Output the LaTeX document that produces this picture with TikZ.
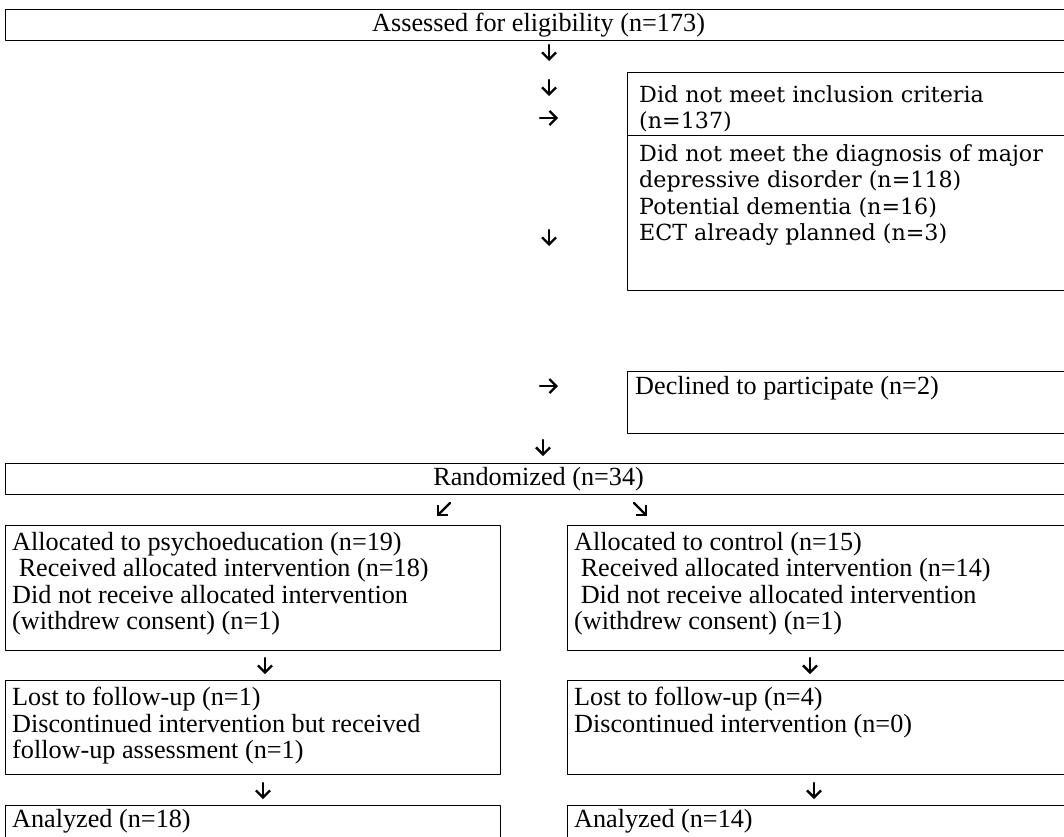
\documentclass[tikz,border=0pt]{standalone}
\usepackage{fontspec}
\setmainfont{Liberation Serif}
\newfontfamily\schoolfont{DejaVu Serif}
\usetikzlibrary{arrows.meta,positioning}

\begin{document}
\begin{tikzpicture}[x=1pt,y=-1pt,line cap=round,line join=round,
  box/.style={draw,line width=1.2pt,inner sep=0pt,anchor=north west},
  txt/.style={font=\fontsize{26.2}{26.4}\selectfont,align=left,inner sep=0pt},
  ctxt/.style={font=\schoolfont\fontsize{22.2}{26.5}\selectfont,align=left,inner sep=0pt},
  flow/.style={-{Straight Barb[length=7pt,width=14pt]},line width=2.3pt}]
\clip (0,0) rectangle (1064,836);
% boxes
\node[box,txt,minimum width=1066pt,minimum height=31pt] (elig) at (5,9) {Assessed for eligibility (n=173)};
\node[box,minimum width=480pt,minimum height=63pt] (excl) at (627,72) {};
\node[box,minimum width=480pt,minimum height=155pt] (reason) at (627,135) {};
\node[box,minimum width=480pt,minimum height=62pt] (decl) at (627,371) {};
\node[box,txt,minimum width=1066pt,minimum height=31pt] (rand) at (5,463) {Randomized (n=34)};
\node[box,minimum width=495pt,minimum height=125pt] (allocA) at (5,525) {};
\node[box,minimum width=540pt,minimum height=125pt] (allocB) at (567,525) {};
\node[box,minimum width=495pt,minimum height=94pt] (followA) at (5,680) {};
\node[box,minimum width=540pt,minimum height=94pt] (followB) at (567,680) {};
\node[box,minimum width=495pt,minimum height=80pt] (analA) at (5,805) {};
\node[box,minimum width=540pt,minimum height=80pt] (analB) at (567,805) {};
% texts
\node[ctxt,below right=13pt and 12pt of excl.north west] (excl-t) {Did not meet inclusion criteria\\(n=137)};
\node[ctxt,below right=9pt and 12pt of reason.north west] (reason-t) {Did not meet the diagnosis of major\\depressive disorder (n=118)\\Potential dementia (n=16)\\ECT already planned (n=3)};
\node[txt,below right=5pt and 8pt of decl.north west] (decl-t) {Declined to participate (n=2)};
\node[txt,below right=7pt and 7pt of allocA.north west] (allocA-t) {Allocated to psychoeducation (n=19)\\
\ Received allocated intervention (n=18)\\Did not receive allocated intervention\\(withdrew consent) (n=1)};
\node[txt,below right=7pt and 7pt of allocB.north west] (allocB-t) {Allocated to control (n=15)\\
\ Received allocated intervention (n=14)\\\ Did not receive allocated intervention\\(withdrew consent) (n=1)};
\node[txt,below right=7pt and 7pt of followA.north west] (followA-t) {Lost to follow-up (n=1)\\Discontinued intervention but received\\follow-up assessment (n=1)};
\node[txt,below right=7pt and 7pt of followB.north west] (followB-t) {Lost to follow-up (n=4)\\Discontinued intervention (n=0)};
\node[txt,below right=4pt and 7pt of analA.north west] (analA-t) {Analyzed (n=18)};
\node[txt,below right=4pt and 7pt of analB.north west] (analB-t) {Analyzed (n=14)};
% arrow marks
\coordinate (v1a) at (549,45);   \coordinate (v1b) at (549,61);
\coordinate (v2a) at (549,80);   \coordinate (v2b) at (549,96);
\coordinate (h1a) at (540,118);  \coordinate (h1b) at (558,118);
\coordinate (v3a) at (549,230);  \coordinate (v3b) at (549,246);
\coordinate (h2a) at (540,386);  \coordinate (h2b) at (558,386);
\coordinate (v4a) at (543,440);  \coordinate (v4b) at (543,456);
\coordinate (d1a) at (450,503);  \coordinate (d1b) at (437,516);
\coordinate (d2a) at (634,503);  \coordinate (d2b) at (647,516);
\coordinate (v5a) at (265,658);  \coordinate (v5b) at (265,674);
\coordinate (v6a) at (810,658);  \coordinate (v6b) at (810,674);
\coordinate (v7a) at (263,783);  \coordinate (v7b) at (263,799);
\coordinate (v8a) at (814,783);  \coordinate (v8b) at (814,799);
\foreach \m in {v1,v2,h1,v3,h2,v4,d1,d2,v5,v6,v7,v8}
  \draw[flow] (\m a) -- (\m b);
\end{tikzpicture}
\end{document}
